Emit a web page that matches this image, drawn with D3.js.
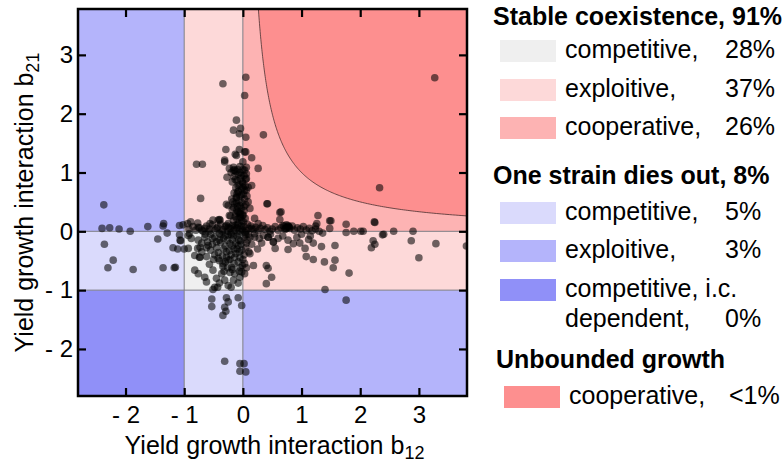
<!DOCTYPE html>
<html>
<head>
<meta charset="utf-8">
<script src="https://cdn.jsdelivr.net/npm/d3@7"></script>
<style>
  body { margin: 0; background: #fff; }
  text { font-family: "Liberation Sans", Arial, sans-serif; fill: #000; }
</style>
</head>
<body>
<script>
// Axis ticks
const xTicks = [-2, -1, 0, 1, 2, 3];
const yTicks = [-2, -1, 0, 1, 2, 3];
const xDomain = [-2.81, 3.82];
const yDomain = [-2.8, 3.78];

// Outcome classes
const stableLabels = ["competitive,", "exploitive,", "cooperative,"];
const stablePct = ["28%", "37%", "26%"];
const dieLabels = ["competitive,", "exploitive,", "competitive, i.c."];
const dieSecondLine = ["", "", "dependent,"];
const diePct = ["5%", "3%", "0%"];
const unboundedLabels = ["cooperative,"];
const unboundedPct = ["<1%"];
const groupTitles = ["Stable coexistence, 91%", "One strain dies out, 8%", "Unbounded growth"];

// Measured interaction pairs [b12, b21]
const strainPairs = [
  // sparse far-left points
  [-2.37,0.45],[-2.40,0.05],[-2.27,0.06],[-2.11,0.04],[-1.92,0.00],[-1.62,0.08],[-1.35,0.13],[-1.36,0.09],
  [-1.29,-0.03],[-1.45,-0.13],[-2.36,-0.22],[-2.21,-0.49],[-2.30,-0.62],[-1.87,-0.65],[-1.36,-0.62],
  [-1.15,-0.61],[-1.17,-0.62],[-1.19,-0.28],[-1.08,0.10],[-1.02,0.11],[-1.08,-0.06],[-1.07,-0.15],
  [-1.06,-0.16],[-1.11,-0.30],[-1.00,-0.30],
  // upper spike
  [0.05,2.62],[-0.34,2.51],[0.03,2.31],[-0.11,1.89],[-0.16,1.72],[-0.04,1.75],[-0.06,1.66],[0.05,1.60],
  [0.35,1.64],[-0.29,1.39],[-0.06,1.39],[0.03,1.35],[-0.13,1.31],[-0.31,1.21],[-0.11,1.29],[0.05,1.35],
  [0.15,1.25],[-0.79,1.14],[-0.69,1.14],[-0.16,1.09],[0.00,1.18],[0.06,1.09],[0.26,1.07],[-0.31,1.18],
  [-0.23,1.07],[-0.14,1.04],[-0.27,0.92],[0.06,0.98],[-0.01,0.84],[0.09,0.75],[0.03,0.70],[-0.10,0.64],
  [-0.72,0.56],[-0.17,0.50],[-0.28,0.46],[-0.25,0.44],[-0.05,0.44],[0.41,0.47],[-0.10,0.36],[0.63,0.32],
  [0.65,0.33],[0.63,0.20],[-0.23,0.27],[-0.06,0.24],[-0.16,0.41],[0.15,0.78],[0.12,0.39],[0.20,0.22],
  [0.26,0.13],[0.09,0.50],[-0.08,0.67],[0.00,0.75],[0.06,0.90],[-0.16,1.04],[-0.05,1.00],[0.03,1.04],
  [0.00,0.27],[-0.08,0.33],[-0.11,0.58],
  // dense vertical column
  [-0.05,1.10],[0.00,1.05],[-0.12,1.02],[-0.20,1.00],[-0.08,0.97],[0.02,0.95],[-0.15,0.93],[-0.04,0.90],
  [0.05,0.88],[-0.10,0.86],[-0.18,0.84],[0.00,0.82],[-0.06,0.79],[0.04,0.77],[-0.12,0.74],[-0.02,0.72],
  [0.06,0.70],[-0.08,0.68],[-0.15,0.65],[0.01,0.63],[-0.05,0.60],[-0.11,0.57],[0.03,0.55],[-0.07,0.52],
  [-0.02,0.49],[-0.14,0.47],[0.05,0.45],[-0.09,0.42],[-0.03,0.39],[-0.18,0.37],[0.02,0.35],[-0.06,0.32],
  [-0.12,0.30],[0.00,0.28],[-0.21,0.26],[-0.04,0.24],[0.04,0.22],[-0.10,0.20],[-0.16,0.18],[0.01,0.16],
  [-0.07,0.14],[-0.25,0.13],[0.08,0.12],[-0.13,0.10],[-0.03,0.09],
  [-0.09,0.12],[-0.02,0.18],[-0.13,0.25],[-0.04,0.30],[-0.19,0.55],[-0.02,0.62],[-0.08,0.78],[-0.13,0.88],
  [-0.03,0.95],[-0.09,1.05],[0.02,0.42],[-0.11,0.48],[0.07,0.60],
  // points just above the b21 = 0 line, left half
  [-0.89,0.16],[-0.56,0.13],[-0.42,0.19],[-0.39,0.19],[-0.76,0.07],[-0.65,0.05],[-0.94,0.13],[-0.77,0.14],
  [-0.51,0.19],[-0.40,0.20],[-0.25,0.07],
  // horizontal arm
  [-0.92,0.04],[-0.85,0.08],[-0.80,0.02],[-0.74,0.06],[-0.68,0.00],[-0.62,0.09],[-0.57,0.04],[-0.52,0.11],
  [-0.47,0.02],[-0.43,0.07],[-0.38,0.12],[-0.34,0.03],[-0.30,0.08],[-0.26,0.00],[-0.22,0.05],[-0.18,0.10],
  [-0.14,0.02],[-0.10,0.06],[-0.06,0.00],[-0.02,0.04],[0.02,0.08],[0.06,0.01],[0.10,0.05],[0.14,0.09],
  [0.18,0.03],[0.22,0.07],[0.26,0.01],[0.30,0.05],[0.34,0.10],[0.38,0.03],[0.42,0.06],[0.46,0.00],
  [0.50,0.04],[0.55,0.08],[0.60,0.02],[0.65,0.06],[0.68,0.10],[0.72,0.03],[0.76,0.07],[0.80,0.05],
  [0.84,0.09],[0.88,0.02],[0.93,0.06],[0.98,0.04],[1.03,0.08],[1.08,0.02],[1.13,0.05],[1.18,0.01],
  [1.24,0.04],[1.30,0.00],[1.36,-0.03],[0.70,0.09],[0.74,0.11],[0.78,0.08],[0.72,0.05],
  [-0.45,0.05],[-0.35,0.00],[-0.28,0.10],[-0.20,-0.02],[-0.15,0.06],[-0.08,-0.04],[-0.01,0.02],[0.04,-0.02],
  [0.09,-0.05],[0.15,0.05],[-0.58,0.00],[-0.70,0.02],
  // right of centre, above and on the line
  [1.28,0.27],[1.48,0.18],[1.50,0.18],[1.76,0.12],[1.26,0.13],[1.24,0.09],[2.24,0.16],[2.25,0.15],
  [2.33,0.74],[3.27,2.61],[0.42,0.47],[0.77,0.10],[0.79,0.07],[0.74,0.05],[1.48,0.05],
  [1.76,-0.02],[1.89,0.00],[2.01,0.00],[2.05,0.00],[2.38,-0.06],[2.40,-0.05],[2.57,0.00],[2.90,0.00],
  // right of centre, below the line
  [0.05,-0.06],[0.12,-0.10],[0.20,-0.04],[0.28,-0.12],[0.35,-0.07],[0.43,-0.10],[0.52,-0.18],[0.47,-0.05],
  [0.60,-0.12],[0.68,-0.08],[0.77,-0.15],[0.86,-0.21],[0.92,-0.10],[0.97,-0.20],[1.06,-0.29],[0.55,-0.29],
  [0.77,-0.31],[1.12,-0.14],[1.20,-0.20],[0.15,-0.22],[0.25,-0.30],[0.32,-0.20],[1.00,-0.05],[1.15,-0.08],
  [1.57,-0.24],[1.34,-0.26],[1.39,-0.52],[1.57,-0.49],[1.54,-0.62],[1.81,-0.71],[1.20,-0.48],[1.08,-0.43],
  [0.40,-0.58],[0.43,-0.63],[0.49,-0.78],[0.40,-0.89],[1.40,-0.99],[1.76,-1.17],[2.22,-0.16],[2.25,-0.22],
  [2.19,-0.28],[2.87,-0.16],[3.29,-0.21],[3.00,-0.45],[3.81,-0.25],[0.43,-0.10],[0.52,-0.18],[0.20,-0.10],
  // central blob
  [-0.55,-0.05],[-0.48,-0.10],[-0.40,-0.04],[-0.33,-0.12],[-0.25,-0.06],[-0.18,-0.14],[-0.10,-0.08],
  [-0.04,-0.16],[0.02,-0.10],[-0.60,-0.18],[-0.52,-0.22],[-0.45,-0.28],[-0.38,-0.19],[-0.30,-0.25],
  [-0.22,-0.21],[-0.15,-0.30],[-0.08,-0.24],[-0.02,-0.32],[0.05,-0.28],[-0.42,-0.36],[-0.35,-0.42],
  [-0.28,-0.35],[-0.20,-0.40],[-0.12,-0.38],[-0.05,-0.45],[0.02,-0.40],[-0.30,-0.52],[-0.22,-0.48],
  [-0.15,-0.55],[-0.08,-0.52],[-0.01,-0.58],[-0.34,-0.60],[-0.26,-0.62],[-0.18,-0.65],[-0.05,-0.62],
  [0.03,-0.55],[-0.40,-0.50],[-0.48,-0.40],[-0.55,-0.32],[0.08,-0.15],[0.10,-0.35],[-0.65,-0.10],
  [-0.70,-0.20],[-0.62,-0.28],[-0.20,-0.05],[-0.12,-0.20],[-0.30,-0.08],[-0.06,-0.35],
  [-0.40,-0.15],[-0.33,-0.30],[-0.26,-0.15],[-0.18,-0.25],[-0.10,-0.30],[-0.03,-0.22],[0.06,-0.20],
  [-0.37,-0.06],[-0.23,-0.33],[-0.14,-0.44],[-0.07,-0.15],[0.00,-0.48],[-0.45,-0.18],[-0.50,-0.48],
  [-0.28,-0.44],[-0.16,-0.08],[-0.06,-0.68],[-0.22,-0.70],[-0.32,-0.68],[0.06,-0.62],[-0.64,-0.05],
  [-0.52,-0.12],
  // competitive coexistence quadrant
  [-0.93,-0.29],[-0.76,-0.15],[-0.73,-0.27],[-0.59,-0.24],[-0.82,-0.41],[-0.73,-0.44],[-0.62,-0.43],
  [-0.82,-0.66],[-0.76,-0.72],[-0.65,-0.78],[-0.51,-0.66],[-0.45,-0.80],[-0.48,-0.95],[-0.51,-0.99],
  [-0.62,-0.86],[-0.31,-0.83],[-0.25,-0.92],[-0.16,-0.83],[-0.14,-0.72],[-0.05,-0.78],[-0.02,-0.69],
  [0.03,-0.72],[-0.34,-0.55],[-0.42,-0.46],[-0.25,-0.49],[-0.19,-0.61],[-0.36,-0.72],[0.12,-0.38],
  [0.18,-0.58],[-0.93,-0.07],[-0.88,-0.12],[-0.70,-0.35],[-0.57,-0.56],[-0.40,-0.88],[-0.20,-0.95],
  [-0.08,-0.88],[-0.91,-0.04],[-0.77,-0.29],[-0.74,-0.44],[-0.43,-0.95],
  // lower spike
  [-0.53,-1.15],[-0.53,-1.28],[-0.28,-1.13],[-0.25,-1.20],[-0.31,-1.29],[-0.29,-1.36],[-0.34,-1.43],
  [-0.08,-1.13],[-0.02,-1.26],[-0.31,-2.21],[-0.05,-2.25],[0.02,-2.25],[-0.05,-2.38],[0.05,-2.39]
];

const W = 783, H = 465;
const plot = { left: 78, right: 467, top: 9, bottom: 396 };

const x = d3.scaleLinear().domain(xDomain).range([plot.left, plot.right]);
const y = d3.scaleLinear().domain(yDomain).range([plot.bottom, plot.top]);

const svg = d3.select("body").append("svg").attr("width", W).attr("height", H);

svg.append("defs").append("clipPath").attr("id", "plot-clip")
  .append("rect")
  .attr("x", plot.left).attr("y", plot.top)
  .attr("width", plot.right - plot.left).attr("height", plot.bottom - plot.top);

const colors = {
  stableCompetitive: "#efefef",
  stableExploitive: "#fdd9d9",
  stableCooperative: "#fdb3b3",
  dieCompetitive: "#dadafc",
  dieExploitive: "#b4b4fb",
  dieIcDependent: "#9090f8",
  unbounded: "#fd8f8f"
};

// Regions in the (b12, b21) plane, split at -1 and 0 on each axis
const xCuts = [xDomain[0], -1, 0, xDomain[1]];
const yCuts = [yDomain[0], -1, 0, yDomain[1]];
const cellColor = [
  // [xi][yi]: yi 0 = below -1, 1 = between, 2 = above 0
  [colors.dieIcDependent, colors.dieCompetitive, colors.dieExploitive],
  [colors.dieCompetitive, colors.stableCompetitive, colors.stableExploitive],
  [colors.dieExploitive, colors.stableExploitive, colors.stableCooperative]
];
const cells = [];
for (let i = 0; i < 3; i++) for (let j = 0; j < 3; j++)
  cells.push({ x0: xCuts[i], x1: xCuts[i + 1], y0: yCuts[j], y1: yCuts[j + 1], fill: cellColor[i][j] });

const area = svg.append("g").attr("clip-path", "url(#plot-clip)");
area.selectAll("rect.cell").data(cells).join("rect")
  .attr("class", "cell")
  .attr("x", d => x(d.x0)).attr("y", d => y(d.y1))
  .attr("width", d => x(d.x1) - x(d.x0)).attr("height", d => y(d.y0) - y(d.y1))
  .attr("fill", d => d.fill);

// Unbounded growth: b12 * b21 > 1
const hx0 = 1 / yDomain[1];
const hyper = d3.range(0, 201).map(k => {
  const bx = hx0 * Math.pow(xDomain[1] / hx0, k / 200);
  return [bx, 1 / bx];
});
const line = d3.line().x(d => x(d[0])).y(d => y(d[1]));
area.append("path")
  .attr("d", line(hyper.concat([[xDomain[1], yDomain[1]]])) + "Z")
  .attr("fill", colors.unbounded);
area.append("path")
  .attr("d", line(hyper))
  .attr("fill", "none").attr("stroke", "#4a3030").attr("stroke-width", 0.8);

// Boundary lines
[-1, 0].forEach(v => {
  area.append("line").attr("x1", x(v)).attr("x2", x(v)).attr("y1", plot.top).attr("y2", plot.bottom)
    .attr("stroke", "#7d7d85").attr("stroke-width", 1);
  area.append("line").attr("x1", plot.left).attr("x2", plot.right).attr("y1", y(v)).attr("y2", y(v))
    .attr("stroke", "#7d7d85").attr("stroke-width", 1);
});

// Scatter
area.selectAll("circle").data(strainPairs).join("circle")
  .attr("cx", d => x(d[0])).attr("cy", d => y(d[1]))
  .attr("r", 3.8).attr("fill", "#000").attr("fill-opacity", 0.57);

// Axes with inward ticks on all four sides
const fmt = d => d < 0 ? "- " + Math.abs(d) : String(d);
const tickLen = 8;
function styleAxis(g) {
  g.select(".domain").remove();
  g.selectAll(".tick line").attr("stroke", "#000").attr("stroke-width", 2.2);
  g.selectAll(".tick text").attr("font-size", 24).attr("font-family", "Liberation Sans, Arial, sans-serif");
}
svg.append("g").attr("transform", `translate(0,${plot.bottom})`)
  .call(d3.axisBottom(x).tickValues(xTicks).tickFormat(fmt).tickSize(-tickLen).tickPadding(10))
  .call(styleAxis);
svg.append("g").attr("transform", `translate(${plot.left},0)`)
  .call(d3.axisLeft(y).tickValues(yTicks).tickFormat(fmt).tickSize(-tickLen).tickPadding(5))
  .call(styleAxis);
svg.append("g").attr("transform", `translate(0,${plot.top})`)
  .call(d3.axisTop(x).tickValues(xTicks).tickFormat("").tickSize(-tickLen))
  .call(styleAxis);
svg.append("g").attr("transform", `translate(${plot.right},0)`)
  .call(d3.axisRight(y).tickValues(yTicks).tickFormat("").tickSize(-tickLen))
  .call(styleAxis);

svg.append("rect")
  .attr("x", plot.left).attr("y", plot.top)
  .attr("width", plot.right - plot.left).attr("height", plot.bottom - plot.top)
  .attr("fill", "none").attr("stroke", "#000").attr("stroke-width", 2.5);

// Axis titles
const xTitle = svg.append("text")
  .attr("x", (plot.left + plot.right) / 2 + 2).attr("y", 454)
  .attr("text-anchor", "middle").attr("font-size", 25);
xTitle.append("tspan").text("Yield growth interaction b");
xTitle.append("tspan").attr("font-size", 18).attr("dy", 5).text("12");

const yTitle = svg.append("text")
  .attr("transform", `translate(33,${(plot.top + plot.bottom) / 2}) rotate(-90)`)
  .attr("text-anchor", "middle").attr("font-size", 25);
yTitle.append("tspan").text("Yield growth interaction b");
yTitle.append("tspan").attr("font-size", 18).attr("dy", 6).text("21");

// Legend
const legendSize = 25;
const lg = svg.append("g");
function header(text, xPos, base) {
  lg.append("text").attr("x", xPos).attr("y", base)
    .attr("font-size", legendSize).attr("font-weight", "bold").text(text);
}
function row(fill, label, pct, base, second, dx) {
  dx = dx || 0;
  lg.append("rect").attr("x", 500 + dx).attr("y", base - 18).attr("width", 56).attr("height", 22)
    .attr("fill", fill);
  lg.append("text").attr("x", 565 + dx).attr("y", base).attr("font-size", legendSize).text(label);
  if (second) {
    lg.append("text").attr("x", 565 + dx).attr("y", base + 30).attr("font-size", legendSize).text(second);
    lg.append("text").attr("x", 725 + dx).attr("y", base + 30).attr("font-size", legendSize).text(pct);
  } else {
    lg.append("text").attr("x", 725 + dx).attr("y", base).attr("font-size", legendSize).text(pct);
  }
}
header(groupTitles[0], 493, 25);
const stableFills = [colors.stableCompetitive, colors.stableExploitive, colors.stableCooperative];
const stableBase = [58, 97, 135];
stableLabels.forEach((l, i) => row(stableFills[i], l, stablePct[i], stableBase[i]));

header(groupTitles[1], 493, 184);
const dieFills = [colors.dieCompetitive, colors.dieExploitive, colors.dieIcDependent];
const dieBase = [220, 258, 297];
dieLabels.forEach((l, i) => row(dieFills[i], l, diePct[i], dieBase[i], dieSecondLine[i]));

header(groupTitles[2], 496, 368);
unboundedLabels.forEach((l, i) => row(colors.unbounded, l, unboundedPct[i], 404, "", 4));
</script>
</body>
</html>
